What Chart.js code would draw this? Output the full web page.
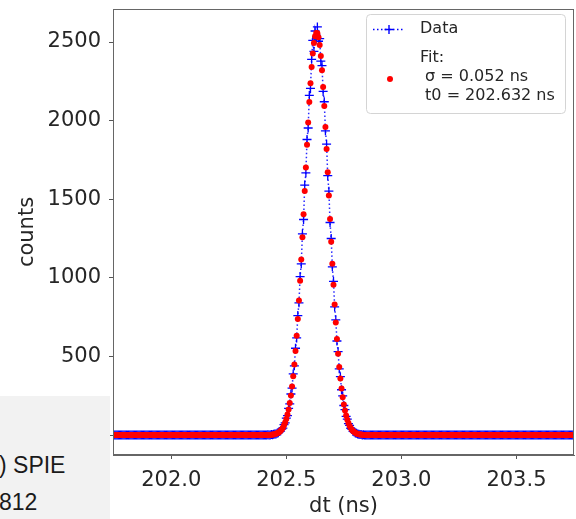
<!DOCTYPE html>
<html>
<head>
<meta charset="utf-8">
<script src="https://cdn.jsdelivr.net/npm/chart.js@4"></script>
<style>
html,body{margin:0;padding:0;background:#fff;}
#wrap{position:relative;width:576px;height:519px;overflow:hidden;}
#c{position:absolute;left:0;top:0;}
#note{position:absolute;left:0;top:396px;width:110px;height:123px;background:#f2f2f2;font-family:"Liberation Sans",Arial,sans-serif;font-size:23px;line-height:23px;color:#1a1a1a;overflow:hidden;}
#note div{position:absolute;left:-1px;white-space:nowrap;}
</style>
</head>
<body>
<div id="wrap">
<canvas id="c" width="576" height="519"></canvas>
<div id="note"><div style="top:58px">) SPIE</div><div style="top:95px">812</div></div>
</div>
<script>
// histogram bins: dt = dtStart + i * dtStep (ns)
const dtStart = 201.75;
const dtStep = 0.005;

// measured counts per bin
const dataCounts = [
  0,0,0,0,0,0,0,0,0,0,
  0,0,0,0,0,0,0,0,0,0,
  0,0,0,0,0,0,0,0,0,0,
  0,0,0,0,0,0,0,0,0,0,
  0,0,1,0,0,0,0,0,0,0,
  0,0,0,0,0,0,0,0,0,0,
  0,0,0,0,0,0,0,0,1,0,
  0,0,0,0,0,0,0,0,0,0,
  0,0,0,0,0,1,0,0,0,0,
  0,0,0,0,0,0,0,0,0,0,
  0,0,0,1,0,0,0,0,0,0,
  0,0,0,0,0,0,0,0,0,1,
  0,0,0,0,0,0,1,0,0,0,
  0,1,0,1,2,1,
  0,3,2,5,7,6,12,14,22,25,
  38,44,66,77,108,124,170,198,261,299,
  389,440,552,618,760,841,1008,1089,1280,1371,
  1590,1668,1880,1953,2160,2205,2390,2510,2440,2570,
  2520,2596,2505,2522,2378,2350,2186,2120,1935,1850,
  1650,1551,1352,1250,1070,978,815,733,598,530,
  421,371,288,249,188,161,119,101,72,61,
  43,36,23,20,13,11,6,5,3,4,
  1,2,
  1,0,1,0,
  0,0,0,0,0,0,0,0,0,0,
  0,0,0,0,1,0,0,0,0,0,
  0,0,0,0,0,0,0,0,0,0,
  0,0,0,0,0,0,0,0,0,0,
  0,0,1,0,0,0,0,0,0,0,
  0,0,0,0,0,0,0,0,0,0,
  0,0,0,0,0,0,0,1,0,0,
  0,0,0,0,0,0,0,0,0,0,
  0,0,0,0,0,0,0,0,0,0,
  0,1,0,0,0,0,0,0,0,0,
  0,0,0,0,0,0,0,0,0,0,
  0,0,0,0,0,0,1,0,0,0,
  0,0,0,0,0,0,0,0,0,0,
  0,0,0,0,0,0,0,0,0,0,
  0,0,0,1,0,0,0,0,0,0,
  0,0,0,0,0,0,0,0,0,0,
  0,0,0,0,0,0,0,0,1,0,
  0,0,0,0,0,0,0,0,0,0
];

// Gaussian fit value per bin (sigma = 0.052 ns, t0 = 202.632 ns)
const fitCounts = [
  0,0,0,0,0,0,0,0,0,0,
  0,0,0,0,0,0,0,0,0,0,
  0,0,0,0,0,0,0,0,0,0,
  0,0,0,0,0,0,0,0,0,0,
  0,0,0,0,0,0,0,0,0,0,
  0,0,0,0,0,0,0,0,0,0,
  0,0,0,0,0,0,0,0,0,0,
  0,0,0,0,0,0,0,0,0,0,
  0,0,0,0,0,0,0,0,0,0,
  0,0,0,0,0,0,0,0,0,0,
  0,0,0,0,0,0,0,0,0,0,
  0,0,0,0,0,0,0,0,0,0,
  0,0,0,0,0,0,0,0,0,0,
  0,0,0,0,0,0,
  1,2,3,4,6,8,11,15,20,27,
  36,47,62,80,102,130,163,204,252,308,
  374,449,535,632,738,855,982,1116,1258,1404,
  1553,1702,1847,1988,2118,2237,2341,2427,2493,2537,
  2558,2556,2530,2481,2411,2321,2214,2093,1960,1819,
  1672,1523,1374,1229,1089,956,831,716,611,517,
  433,360,296,241,195,156,124,97,76,58,
  45,34,25,19,14,10,7,5,4,3,
  2,1,
  0,0,0,0,
  0,0,0,0,0,0,0,0,0,0,
  0,0,0,0,0,0,0,0,0,0,
  0,0,0,0,0,0,0,0,0,0,
  0,0,0,0,0,0,0,0,0,0,
  0,0,0,0,0,0,0,0,0,0,
  0,0,0,0,0,0,0,0,0,0,
  0,0,0,0,0,0,0,0,0,0,
  0,0,0,0,0,0,0,0,0,0,
  0,0,0,0,0,0,0,0,0,0,
  0,0,0,0,0,0,0,0,0,0,
  0,0,0,0,0,0,0,0,0,0,
  0,0,0,0,0,0,0,0,0,0,
  0,0,0,0,0,0,0,0,0,0,
  0,0,0,0,0,0,0,0,0,0,
  0,0,0,0,0,0,0,0,0,0,
  0,0,0,0,0,0,0,0,0,0,
  0,0,0,0,0,0,0,0,0,0,
  0,0,0,0,0,0,0,0,0,0
];

const xTickValues = [202.0, 202.5, 203.0, 203.5];
const yTickValues = [0, 500, 1000, 1500, 2000, 2500];
const dataLabel = 'Data';
const fitLabelLines = ['Fit:', ' σ = 0.052 ns', ' t0 = 202.632 ns'];
const xTitle = 'dt (ns)';
const yTitle = 'counts';

const toPoints = arr => arr.map((y, i) => ({x: +(dtStart + i * dtStep).toFixed(4), y: y}));

Chart.defaults.font.family = 'DejaVu Sans';

// pin the right edge of the plot area
const areaPlugin = {
  id: 'areaFix',
  afterLayout(chart) {
    const target = 574;
    const a = chart.chartArea;
    const x = chart.scales.x;
    if (!x) return;
    a.right = target;
    a.width = target - a.left;
    x.right = target;
    x.width = target - x.left;
    x.configure();
  }
};

const framePlugin = {
  id: 'frame',
  afterDatasetsDraw(chart) {
    const {ctx, chartArea: a} = chart;
    ctx.save();
    ctx.strokeStyle = '#666';
    ctx.lineWidth = 1;
    ctx.strokeRect(Math.round(a.left) + 0.5, Math.round(a.top) + 0.5,
                   Math.round(a.right - a.left) - 1, Math.round(a.bottom - a.top) - 1);
    ctx.restore();
  }
};

const legendPlugin = {
  id: 'mplLegend',
  afterDraw(chart) {
    const {ctx} = chart;
    ctx.save();
    const bx = 366.5, by = 14.5, bw = 199, bh = 99, r = 4;
    ctx.beginPath();
    ctx.moveTo(bx + r, by);
    ctx.arcTo(bx + bw, by, bx + bw, by + bh, r);
    ctx.arcTo(bx + bw, by + bh, bx, by + bh, r);
    ctx.arcTo(bx, by + bh, bx, by, r);
    ctx.arcTo(bx, by, bx + bw, by, r);
    ctx.closePath();
    ctx.fillStyle = 'rgba(255,255,255,0.85)';
    ctx.fill();
    ctx.strokeStyle = '#d4d4d4';
    ctx.lineWidth = 1;
    ctx.stroke();
    // data handle
    ctx.strokeStyle = '#0000ff';
    ctx.lineWidth = 1.5;
    ctx.setLineDash([1.5, 2.5]);
    ctx.beginPath();
    ctx.moveTo(373, 29.5);
    ctx.lineTo(405, 29.5);
    ctx.stroke();
    ctx.setLineDash([]);
    ctx.lineWidth = 1.4;
    ctx.beginPath();
    ctx.moveTo(384.5, 29.5); ctx.lineTo(393.5, 29.5);
    ctx.moveTo(389, 25); ctx.lineTo(389, 34);
    ctx.stroke();
    // fit handle
    ctx.fillStyle = '#ff0000';
    ctx.beginPath();
    ctx.arc(390, 79, 3, 0, Math.PI * 2);
    ctx.fill();
    // texts
    ctx.fillStyle = '#262626';
    ctx.font = '16px "DejaVu Sans"';
    ctx.textBaseline = 'middle';
    ctx.textAlign = 'left';
    ctx.fillText(dataLabel, 420, 29);
    const ys = [58, 77, 96];
    fitLabelLines.forEach((t, i) => ctx.fillText(t, 420, ys[i]));
    ctx.restore();
  }
};

new Chart(document.getElementById('c'), {
  type: 'line',
  data: {
    datasets: [
      {
        label: 'Fit',
        data: toPoints(fitCounts),
        showLine: false,
        pointStyle: 'circle',
        pointRadius: 3,
        pointBackgroundColor: '#ff0000',
        pointBorderColor: '#ff0000',
        pointBorderWidth: 0
      },
      {
        label: dataLabel,
        data: toPoints(dataCounts),
        showLine: true,
        borderColor: '#2a2aff',
        borderWidth: 1.5,
        borderDash: [1.5, 2.5],
        fill: false,
        tension: 0,
        pointStyle: 'cross',
        pointRadius: 4.5,
        pointBorderColor: '#0000ff',
        pointBorderWidth: 1.3
      }
    ]
  },
  options: {
    responsive: false,
    animation: false,
    events: [],
    layout: {padding: {top: 9, right: 1, left: 0, bottom: 0}},
    plugins: {legend: {display: false}, tooltip: {enabled: false}},
    scales: {
      x: {
        type: 'linear',
        min: 201.747,
        max: 203.75,
        afterBuildTicks: s => { s.ticks = xTickValues.map(v => ({value: v})); },
        afterFit: s => { s.height = 64; s.paddingLeft = 0; s.paddingRight = 0; },
        ticks: {
          callback: v => Number(v).toFixed(1),
          font: {size: 21},
          color: '#262626',
          padding: 9,
          maxRotation: 0,
          autoSkip: false
        },
        grid: {drawOnChartArea: false, drawTicks: true, tickLength: 4, color: '#555'},
        border: {display: true, color: '#666'},
        title: {display: true, text: xTitle, font: {size: 21}, color: '#262626', padding: {top: 0, bottom: 0}}
      },
      y: {
        type: 'linear',
        min: -127,
        max: 2710,
        afterBuildTicks: s => { s.ticks = yTickValues.map(v => ({value: v})); },
        afterFit: s => { s.width = 113; s.paddingTop = 0; s.paddingBottom = 0; },
        ticks: {
          callback: v => String(v),
          font: {size: 21},
          color: '#262626',
          padding: 8,
          autoSkip: false
        },
        grid: {drawOnChartArea: false, drawTicks: true, tickLength: 4, color: '#555'},
        border: {display: true, color: '#666'},
        title: {display: true, text: yTitle, font: {size: 21}, color: '#262626', padding: {top: 15, bottom: 0}}
      }
    }
  },
  plugins: [areaPlugin, framePlugin, legendPlugin]
});
</script>
</body>
</html>
